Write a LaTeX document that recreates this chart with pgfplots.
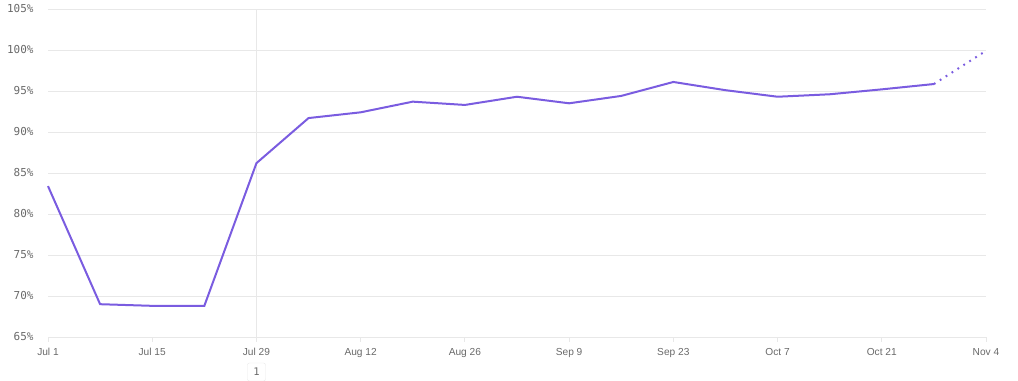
\documentclass[border=0pt]{standalone}
\usepackage{fontspec}
\setmainfont{Liberation Sans}
\newfontfamily\monof{DejaVu Sans Mono}
\usepackage{pgfplots}
\pgfplotsset{compat=1.18}
\definecolor{lineC}{RGB}{122,92,224}
\definecolor{gridC}{RGB}{232,232,232}
\definecolor{labC}{RGB}{105,105,105}
\begin{document}
\begin{tikzpicture}[x=1bp,y=1bp]
\path[use as bounding box] (0,0) rectangle (1018,380);
\begin{axis}[
  at={(48bp,43bp)}, anchor=south west,
  scale only axis, width=938bp, height=328bp,
  xmin=0, xmax=18, ymin=65, ymax=105,
  axis x line*=bottom, axis y line*=left,
  y axis line style={draw=none},
  x axis line style={draw=gridC, line width=1bp},
  xtick={0,2,...,18},
  xticklabels={Jul 1,Jul 15,Jul 29,Aug 12,Aug 26,Sep 9,Sep 23,Oct 7,Oct 21,Nov 4},
  x tick style={draw=gridC, line width=1bp},
  tick align=outside, major tick length=5bp,
  ytick={65,70,...,105},
  yticklabels={65\%,70\%,75\%,80\%,85\%,90\%,95\%,100\%,105\%},
  ytick style={draw=none},
  ymajorgrids, grid style={draw=gridC, line width=0.8bp},
  extra x ticks={4}, extra x tick labels={},
  extra x tick style={xmajorgrids=true, major tick length=0bp},
  xticklabel style={font=\fontsize{10.2}{12}\selectfont, text=labC, yshift=-3bp},
  yticklabel style={font=\monof\fontsize{11}{12}\selectfont, text=labC, xshift=-6bp},
  clip=false,
]
\addplot[lineC, line width=2bp] coordinates {
(0,83.4) (1,69.0) (2,68.8) (3,68.8) (4,86.2) (5,91.7) (6,92.4) (7,93.7) (8,93.3)
(9,94.3) (10,93.5) (11,94.4) (12,96.1) (13,95.1) (14,94.3) (15,94.6) (16,95.2) (17,95.85)
};
\addplot[lineC, line width=2bp, dash pattern=on 1.8bp off 5.2bp] coordinates {(17,95.85) (18,99.9)};
\node[draw=gridC, rounded corners=2bp, font=\monof\fontsize{10.5}{12}\selectfont, text=labC,
  minimum width=18bp, minimum height=18bp, inner sep=0pt] at (axis cs:4,65) [yshift=-35bp] {1};
\end{axis}
\end{tikzpicture}
\end{document}
